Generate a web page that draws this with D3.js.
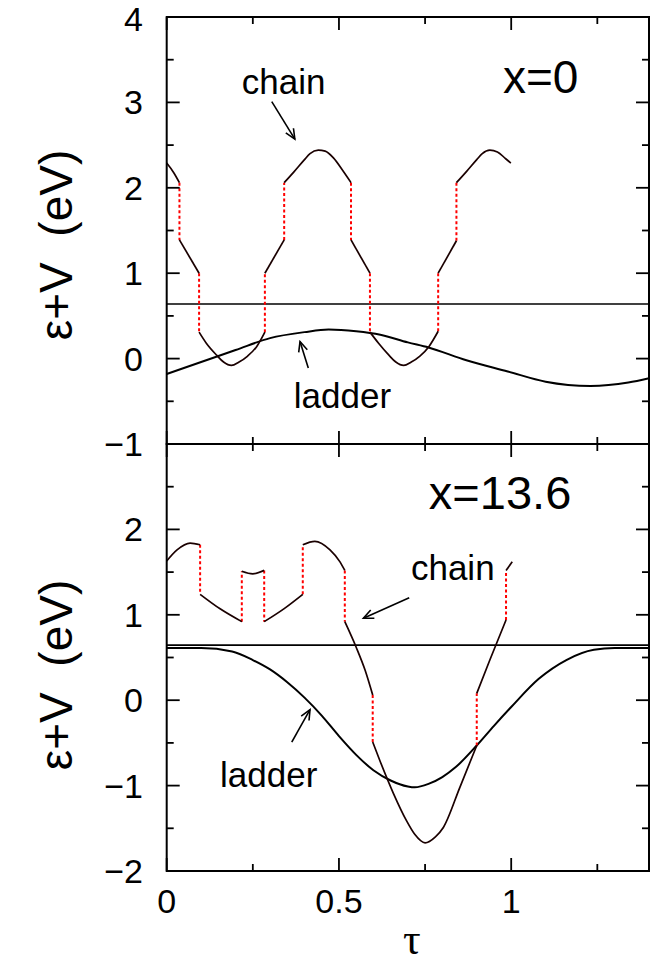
<!DOCTYPE html>
<html>
<head>
<meta charset="utf-8">
<script src="https://cdn.jsdelivr.net/npm/d3@7"></script>
<style>
body { margin:0; background:#fff; }
svg text { font-family: "Liberation Sans", Arial, sans-serif; fill:#000; }
</style>
</head>
<body>
<svg id="chart" width="668" height="966"></svg>
<script>
// tick values
var tauTicks = [0, 0.5, 1];
var tauMinor = [0.25, 0.75, 1.25];
var topYTicks = [-1, 0, 1, 2, 3, 4];
var botYTicks = [-2, -1, 0, 1, 2];

// fermi level lines
var fermiTop = 0.64;
var fermiBot = 0.645;

// x=0 panel
var ladderTop = [[0,-0.18],[0.1,-0.04],[0.2,0.10],[0.3,0.24],[0.4,0.31],[0.47,0.34],[0.55,0.32],
  [0.62,0.28],[0.7,0.19],[0.76,0.13],[0.87,-0.02],[0.99,-0.15],[1.1,-0.27],[1.23,-0.32],[1.34,-0.28],[1.4,-0.23]];
var chainTop = [
  [[0,2.29],[0.02,2.18],[0.037,2.06]],
  [[0.037,1.39],[0.094,1.0]],
  [[0.094,0.31],[0.115,0.18],[0.145,0.04],[0.165,-0.04],[0.188,-0.08],[0.21,-0.04],[0.235,0.03],[0.261,0.14],[0.285,0.31]],
  [[0.285,1.0],[0.341,1.39]],
  [[0.341,2.06],[0.37,2.19],[0.40,2.33],[0.416,2.40],[0.44,2.44],[0.46,2.43],[0.484,2.35],[0.513,2.19],[0.535,2.06]],
  [[0.535,1.39],[0.59,1.0]],
  [[0.59,0.31],[0.615,0.18],[0.645,0.04],[0.665,-0.04],[0.688,-0.08],[0.71,-0.04],[0.735,0.03],[0.761,0.14],[0.788,0.32]],
  [[0.788,1.0],[0.841,1.38]],
  [[0.841,2.06],[0.87,2.19],[0.9,2.33],[0.916,2.40],[0.938,2.44],[0.96,2.42],[0.984,2.34],[0.999,2.29]]
];

// x=13.6 panel
var ladderBot = [[0,0.61],[0.1,0.61],[0.19,0.57],[0.25,0.47],[0.30,0.36],[0.35,0.21],[0.40,0.03],[0.45,-0.18],
  [0.50,-0.42],[0.55,-0.64],[0.60,-0.82],[0.65,-0.94],[0.70,-1.01],[0.72,-1.02],[0.76,-0.98],[0.80,-0.9],
  [0.84,-0.78],[0.9,-0.53],[0.95,-0.3],[1.0,-0.08],[1.08,0.25],[1.16,0.47],[1.24,0.59],[1.3,0.61],[1.4,0.61]];
var chainBot = [
  [[0,1.63],[0.03,1.76],[0.068,1.84],[0.097,1.82]],
  [[0.097,1.24],[0.155,1.07],[0.218,0.92]],
  [[0.218,1.51],[0.25,1.48],[0.283,1.52]],
  [[0.283,0.92],[0.34,1.07],[0.395,1.24]],
  [[0.395,1.82],[0.43,1.86],[0.474,1.76],[0.503,1.62],[0.517,1.52]],
  [[0.517,0.92],[0.55,0.62],[0.576,0.35],[0.598,0.06]],
  [[0.598,-0.49],[0.62,-0.72],[0.658,-1.09],[0.696,-1.41],[0.72,-1.57],[0.75,-1.67],[0.78,-1.6],[0.803,-1.49],[0.851,-1.02],[0.9,-0.53]],
  [[0.9,0.08],[0.938,0.47],[0.985,0.94]],
  [[0.985,1.52],[1.003,1.62]]
];

var svg = d3.select("#chart");
var left = 166.7, right = 649;
var x = d3.scaleLinear().domain([0, 1.4]).range([left, right]);

var defs = svg.append("defs");
defs.append("marker").attr("id","arr").attr("viewBox","-12 -6 14 12")
  .attr("refX",0).attr("refY",0).attr("markerWidth",14).attr("markerHeight",12)
  .attr("markerUnits","userSpaceOnUse").attr("orient","auto")
  .append("path").attr("d","M-10,-4.5L0,0L-10,4.5").attr("fill","none").attr("stroke","#000").attr("stroke-width",1.6);

function panel(top, bottom, dom, yTicks, fermi, ladder, chain, notes, titleY) {
  var y = d3.scaleLinear().domain(dom).range([bottom, top]);
  var g = svg.append("g");

  var line = d3.line().x(function(d){return x(d[0]);}).y(function(d){return y(d[1]);}).curve(d3.curveMonotoneX);

  // fermi level
  g.append("line").attr("x1",x(0)).attr("x2",x(1.4)).attr("y1",y(fermi)).attr("y2",y(fermi))
    .attr("stroke","#000").attr("stroke-width",1.6);

  g.append("path").datum(ladder).attr("d",line).attr("fill","none").attr("stroke","#000").attr("stroke-width",2);

  // red dotted jumps between chain pieces
  for (var i=0; i<chain.length-1; i++) {
    var a = chain[i][chain[i].length-1], b = chain[i+1][0];
    g.append("line").attr("x1",x(a[0])).attr("x2",x(b[0])).attr("y1",y(a[1])).attr("y2",y(b[1]))
      .attr("stroke","#f00").attr("stroke-width",2).attr("stroke-dasharray","3,2.5");
  }
  g.selectAll(".chain").data(chain).enter().append("path").attr("d",line)
    .attr("fill","none").attr("stroke","#1a0000").attr("stroke-width",1.7);

  // frame
  g.append("rect").attr("x",left).attr("y",top).attr("width",right-left).attr("height",bottom-top)
    .attr("fill","none").attr("stroke","#000").attr("stroke-width",2);

  // ticks
  var yMinor = d3.range(dom[0]+0.5, dom[1], 1);
  function tk(x1,y1,x2,y2){ g.append("line").attr("x1",x1).attr("y1",y1).attr("x2",x2).attr("y2",y2).attr("stroke","#000").attr("stroke-width",1.8); }
  tauTicks.forEach(function(t){ tk(x(t),bottom,x(t),bottom-13); tk(x(t),top,x(t),top+13); });
  tauMinor.forEach(function(t){ tk(x(t),bottom,x(t),bottom-7); tk(x(t),top,x(t),top+7); });
  yTicks.forEach(function(v){ tk(left,y(v),left+13,y(v)); tk(right,y(v),right-13,y(v)); });
  yMinor.forEach(function(v){ tk(left,y(v),left+7,y(v)); tk(right,y(v),right-7,y(v)); });

  g.selectAll(".yl").data(yTicks).enter().append("text")
    .attr("x",143).attr("y",function(d){return Math.max(y(d) + 12, 31);})
    .attr("text-anchor","end").attr("font-size",34)
    .text(function(d){ return d < 0 ? "\u2212" + Math.abs(d) : d; });

  g.append("text").attr("transform","translate(72,"+titleY+") rotate(-90)")
    .attr("text-anchor","middle").attr("font-size",46).attr("xml:space","preserve").text("\u03b5+V  (eV)");

  notes.labels.forEach(function(n){
    g.append("text").attr("x",x(n[0])).attr("y",y(n[1])).attr("font-size",n[3]).text(n[2]);
  });
  notes.arrows.forEach(function(a){
    g.append("line").attr("x1",x(a[0])).attr("y1",y(a[1])).attr("x2",x(a[2])).attr("y2",y(a[3]))
      .attr("stroke","#000").attr("stroke-width",1.6).attr("marker-end","url(#arr)");
  });
  return y;
}

panel(17, 444, [-1, 4], topYTicks, fermiTop, ladderTop, chainTop, {
  labels: [[0.218, 3.10, "chain", 35], [0.976, 3.11, "x=0", 46], [0.369, -0.58, "ladder", 35]],
  arrows: [[0.305, 3.01, 0.372, 2.57], [0.411, -0.11, 0.387, 0.20]]
}, 245);

panel(444, 871, [-2, 3], botYTicks, fermiBot, ladderBot, chainBot, {
  labels: [[0.761, 2.24, "x=13.6", 47], [0.709, 1.41, "chain", 35], [0.155, -1.02, "ladder", 35]],
  arrows: [[0.704, 1.20, 0.571, 0.96], [0.363, -0.49, 0.416, -0.11]]
}, 675);

// x tick labels
svg.selectAll(".xl").data(tauTicks).enter().append("text")
  .attr("x",function(d){return x(d);}).attr("y",913).attr("text-anchor","middle").attr("font-size",34)
  .text(function(d){return d;});

svg.append("text").attr("x",x(0.7)+4).attr("y",954).attr("text-anchor","middle")
  .attr("font-size",44).style("font-family","'Liberation Serif', serif").text("\u03c4");
</script>
</body>
</html>
